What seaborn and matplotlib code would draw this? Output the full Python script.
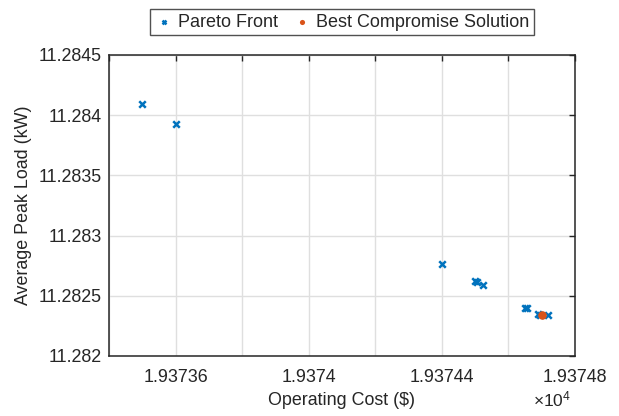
import numpy as np
import pandas as pd
import matplotlib
matplotlib.use('Agg')
import matplotlib.pyplot as plt
import seaborn as sns
from matplotlib.ticker import MultipleLocator, FuncFormatter

# Pareto front values (cost in $, load in kW)
pareto_cost = [19373.50, 19373.60, 19374.40, 19374.50, 19374.505, 19374.525,
               19374.65, 19374.655, 19374.69, 19374.695, 19374.72]
pareto_load = [11.284094, 11.283925, 11.282765, 11.282620, 11.282612, 11.282590,
               11.282400, 11.282395, 11.282345, 11.282343, 11.282340]
best_cost = [19374.70]
best_load = [11.282340]

pareto = pd.DataFrame({'cost': pareto_cost, 'load': pareto_load})
best = pd.DataFrame({'cost': best_cost, 'load': best_load})

sns.set_style('white')
plt.rcParams['font.family'] = ['Liberation Sans', 'DejaVu Sans']
plt.rcParams['mathtext.fontset'] = 'custom'
plt.rcParams['mathtext.rm'] = 'Liberation Sans'

blue = '#0072BD'
orange = '#D95319'
fs = 12.9

fig = plt.figure(figsize=(6.19, 4.16), dpi=100)
ax = fig.add_axes([109 / 619, 60 / 416, 466 / 619, 301 / 416])

sns.scatterplot(data=pareto, x='cost', y='load', marker='x', color=blue,
                s=22, linewidth=1.8, ax=ax, label='Pareto Front', zorder=3)
sns.scatterplot(data=best, x='cost', y='load', marker='o', color=orange,
                s=38, edgecolor=orange, linewidth=0, ax=ax,
                label='Best Compromise Solution', zorder=4)

ax.set_xlim(19373.4, 19374.8)
ax.set_ylim(11.282, 11.2845)
ax.xaxis.set_major_locator(MultipleLocator(0.2))
ax.yaxis.set_major_locator(MultipleLocator(0.0005))


def xfmt(v, pos):
    if int(round(v * 5)) % 2 == 0:
        return '{:.6g}'.format(v / 1e4)
    return ''


ax.xaxis.set_major_formatter(FuncFormatter(xfmt))
ax.yaxis.set_major_formatter(FuncFormatter(lambda v, p: '{:.6g}'.format(v)))

ax.grid(True, color='#DFDFDF', linewidth=1)
ax.set_axisbelow(True)
for sp in ax.spines.values():
    sp.set_visible(True)
    sp.set_color('#262626')
    sp.set_linewidth(1.1)
ax.tick_params(direction='in', length=4, width=1, color='#262626',
               top=True, right=True, labelsize=fs, labelcolor='#262626')
ax.tick_params(axis='x', pad=9)
ax.tick_params(axis='y', pad=5)

ax.set_xlabel('Operating Cost ($)', fontsize=fs, color='#262626', labelpad=5)
ax.set_ylabel('Average Peak Load (kW)', fontsize=fs, color='#262626', labelpad=5)
fig.text(533 / 619, 1 - 406 / 416, r'$\times\mathregular{10^4}$', fontsize=12.5,
         color='#262626', ha='left', va='baseline')

leg = ax.legend(loc='lower center', bbox_to_anchor=(0.5, 1.065), ncol=2,
                frameon=True, fancybox=False, fontsize=13.0, handletextpad=0.3,
                columnspacing=0.8, borderpad=0.25, markerscale=0.6,
                handlelength=1.0, borderaxespad=0)
leg.get_frame().set_edgecolor('#262626')
leg.get_frame().set_linewidth(1)

fig.savefig('out.png', dpi=100)
